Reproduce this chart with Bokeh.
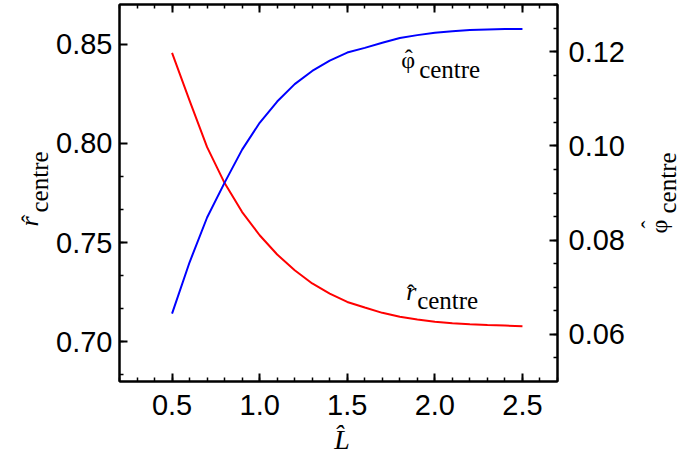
import math
from bokeh.plotting import figure
from bokeh.layouts import row
from bokeh.models import Range1d, LinearAxis, FixedTicker, PrintfTickFormatter, Label
from bokeh.embed import file_html
from bokeh.resources import INLINE

# ---- data ----
L_hat = [0.5, 0.6, 0.7, 0.8, 0.9, 1.0, 1.1, 1.2, 1.3, 1.4, 1.5,
         1.6, 1.7, 1.8, 1.9, 2.0, 2.1, 2.2, 2.3, 2.4, 2.5]
r_centre = [0.8456, 0.8216, 0.7981, 0.7800, 0.7654, 0.7537, 0.7440, 0.7361,
            0.7294, 0.7243, 0.7201, 0.7173, 0.7146, 0.7126, 0.7113, 0.7101,
            0.7094, 0.7089, 0.7085, 0.7082, 0.7079]
phi_centre = [0.0644, 0.0753, 0.0848, 0.0922, 0.0992, 0.1049, 0.1094, 0.1131,
              0.1159, 0.1181, 0.1198, 0.1208, 0.1219, 0.1229, 0.1235, 0.1240,
              0.1243, 0.1246, 0.1247, 0.1248, 0.1248]

x_major = [0.5, 1.0, 1.5, 2.0, 2.5]
y_major = [0.70, 0.75, 0.80, 0.85]
y2_major = [0.06, 0.08, 0.10, 0.12]

# ---- layout (page pixels) ----
LEFT_W, MAIN_W, RIGHT_W = 53, 583, 45
H = 460
FRAME_LEFT, FRAME_RIGHT, FRAME_TOP, FRAME_BOTTOM = 117, 557, 4, 381
X0, X1 = 0.2, 2.7
Y0, Y1 = 0.68, 0.87
Y20, Y21 = 0.05, 0.13

def xd(px):
    return X0 + (px - FRAME_LEFT) / (FRAME_RIGHT - FRAME_LEFT) * (X1 - X0)

def yd(py):
    return Y0 + (FRAME_BOTTOM - py) / (FRAME_BOTTOM - FRAME_TOP) * (Y1 - Y0)

p = figure(width=MAIN_W, height=H, x_range=Range1d(X0, X1), y_range=Range1d(Y0, Y1),
           output_backend="svg", toolbar_location=None,
           min_border_left=FRAME_LEFT - LEFT_W,
           min_border_right=LEFT_W + MAIN_W - FRAME_RIGHT,
           min_border_top=FRAME_TOP, min_border_bottom=H - FRAME_BOTTOM)
p.extra_y_ranges = {"phi": Range1d(Y20, Y21)}
p.xgrid.visible = False
p.ygrid.visible = False
p.background_fill_color = "white"
p.border_fill_color = "white"
p.outline_line_color = "black"
p.outline_line_width = 2

x_minor = [round(0.2 + 0.1 * i, 2) for i in range(26)]
y_minor = [0.70 + (k / 3.0) * 0.05 for k in range(-1, 6)]
y2_minor = [round(0.055 + 0.005 * i, 3) for i in range(16)]

def style_axis(ax, fmt, label_size="29px", standoff=6):
    ax.axis_line_width = 2
    ax.axis_line_color = "black"
    ax.major_tick_in = 8
    ax.major_tick_out = 0
    ax.minor_tick_in = 4
    ax.minor_tick_out = 0
    ax.major_tick_line_width = 2
    ax.minor_tick_line_width = 1.5
    ax.major_tick_line_color = "black"
    ax.minor_tick_line_color = "black"
    ax.formatter = PrintfTickFormatter(format=fmt)
    ax.major_label_text_font = "Liberation Sans"
    ax.major_label_text_font_size = label_size
    ax.major_label_text_color = "black"
    ax.major_label_standoff = standoff
    ax.axis_label = None

xb = p.below[0]
xb.ticker = FixedTicker(ticks=x_major, minor_ticks=x_minor)
style_axis(xb, "%.1f", standoff=13)
# x-axis label: italic L with circumflex
xb.axis_label = "\u00a0L\u0302"
xb.axis_label_text_font = "Liberation Serif"
xb.axis_label_text_font_style = "italic"
xb.axis_label_text_font_size = "28px"
xb.axis_label_text_color = "black"
xb.axis_label_standoff = 6

yl = p.left[0]
yl.ticker = FixedTicker(ticks=y_major, minor_ticks=y_minor)
style_axis(yl, "%.2f", standoff=7)

yr = LinearAxis(y_range_name="phi", ticker=FixedTicker(ticks=y2_major, minor_ticks=y2_minor))
style_axis(yr, "%.2f", standoff=11)
p.add_layout(yr, "right")

xt = LinearAxis(ticker=FixedTicker(ticks=x_major, minor_ticks=x_minor))
style_axis(xt, "%.1f", label_size="0px", standoff=0)
xt.major_label_text_color = None
p.add_layout(xt, "above")

p.line(L_hat, r_centre, line_color="red", line_width=2)
p.line(L_hat, phi_centre, line_color="blue", line_width=2, y_range_name="phi")

HAT = "\u02c6"
PHI = "\u03c6"
BIAS = 0.33  # rendered baseline sits this many em below the label anchor

def add_text(fig, text, x, y, size, style="normal", angle=0.0):
    fig.add_layout(Label(x=x, y=y, text=text, text_font="Liberation Serif",
                         text_font_size=f"{size}px", text_font_style=style, angle=angle,
                         text_align="left", text_baseline="alphabetic", text_color="black"))

def htext(fig, text, px, base_py, size, style="normal"):
    add_text(fig, text, xd(px), yd(base_py - BIAS * size), size, style)

def vtext(fig, text, base_px, start_py, size, style="normal"):
    add_text(fig, text, base_px - BIAS * size, start_py, size, style, angle=math.pi / 2)

# in-plot labels
htext(p, PHI, 400, 67, 24)
htext(p, HAT, 403.5, 65.5, 24)
htext(p, "centre", 418, 77, 25)
htext(p, "r", 405, 300, 26, style="italic")
htext(p, HAT, 405.5, 300.5, 24)
htext(p, "centre", 416, 308, 25)

def side_fig(w, x_start):
    f = figure(width=w, height=H, x_range=Range1d(x_start, x_start + w),
               y_range=Range1d(FRAME_BOTTOM, FRAME_TOP),
               output_backend="svg", toolbar_location=None,
               x_axis_location=None, y_axis_location=None,
               min_border_left=0, min_border_right=0,
               min_border_top=FRAME_TOP, min_border_bottom=H - FRAME_BOTTOM)
    f.xgrid.visible = False
    f.ygrid.visible = False
    f.outline_line_color = None
    f.background_fill_color = "white"
    f.border_fill_color = "white"
    return f

# left axis label: r^ centre (rotated); data units = page pixels
lf = side_fig(LEFT_W, 0)
vtext(lf, "centre", 47.5, 212, 25)
vtext(lf, "r", 38, 226, 26, style="italic")
vtext(lf, HAT, 37, 222, 24)

# right axis label: phi^ centre (rotated)
RX = LEFT_W + MAIN_W
rf = side_fig(RIGHT_W, RX)
vtext(rf, "centre", 675, 213, 25)
vtext(rf, PHI, 666, 233, 24)
vtext(rf, HAT, 657, 228, 24)

layout = row(lf, p, rf)
open("out.html", "w").write(file_html(layout, INLINE))
